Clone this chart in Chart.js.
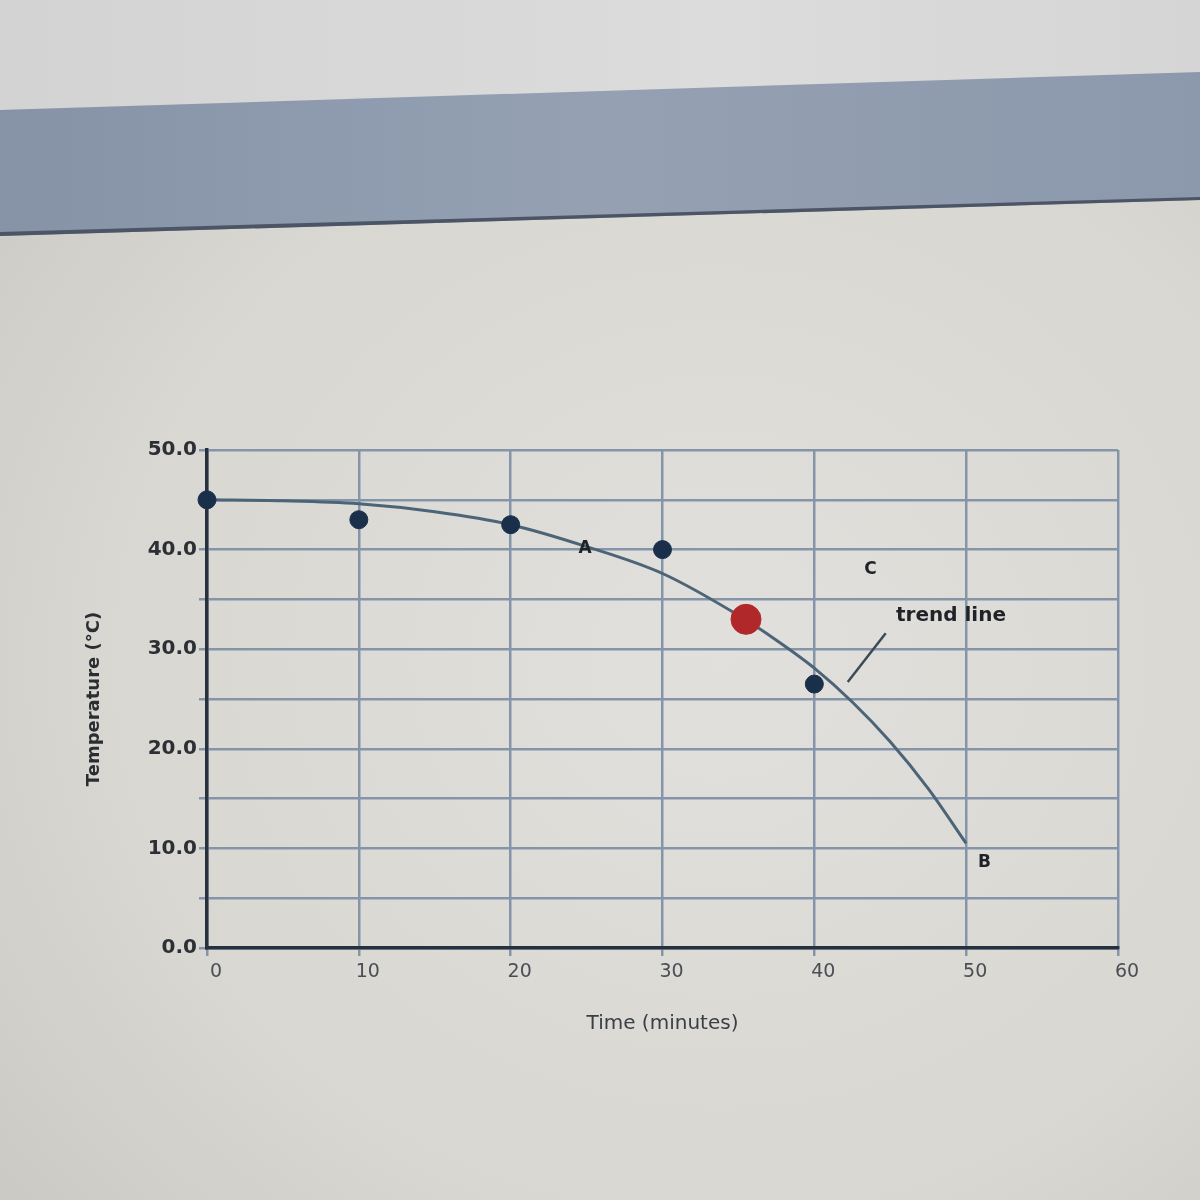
<!DOCTYPE html>
<html>
<head>
<meta charset="utf-8">
<script src="https://cdn.jsdelivr.net/npm/chart.js@4.4.1/dist/chart.umd.min.js"></script>
<style>
  html, body { margin: 0; padding: 0; }
  body {
    width: 1200px; height: 1200px; position: relative; overflow: hidden;
    background: radial-gradient(ellipse at 60% 55%, #e2e0dc 0%, #d9d7d2 60%, #c8c6c1 100%);
  }
  #top {
    position: absolute; left: 0; top: 0; width: 1200px; height: 260px;
    background: linear-gradient(90deg, #d3d3d3 0%, #dcdcdc 60%, #d5d5d5 100%);
    clip-path: polygon(0 0, 1200px 0, 1200px 74px, 0 110px);
  }
  #band {
    position: absolute; left: 0; top: 0; width: 1200px; height: 260px;
    background: linear-gradient(90deg, #8693a7 0%, #95a1b3 50%, #8c98ab 100%);
    clip-path: polygon(0 110px, 1200px 72px, 1200px 200px, 0 236px);
  }
  #bandEdge {
    position: absolute; left: 0; top: 0; width: 1200px; height: 260px;
    background: #4b5566;
    clip-path: polygon(0 232px, 1200px 197px, 1200px 200px, 0 236px);
  }
  #wrap { position: absolute; left: 0; top: 0; width: 1200px; height: 1200px; }
</style>
</head>
<body>
<div id="top"></div>
<div id="band"></div>
<div id="bandEdge"></div>
<div id="wrap"><canvas id="chart" width="1200" height="1200"></canvas></div>
<script>
// measured temperatures
const timeMinutes = [0, 10, 20, 30, 40];
const temperature = [45, 43, 42.5, 40, 26.5];

// the red point
const redTime = [35.5];
const redTemp = [33];

// trend line
const trendTime = [0, 5, 10, 15, 20, 25, 30, 35, 37.5, 40, 42.5, 45, 47.5, 50];
const trendTemp = [45, 44.9, 44.6, 43.8, 42.5, 40.3, 37.6, 33.4, 30.9, 28.1, 24.7, 20.7, 16.0, 10.5];

const xTicks = [0, 10, 20, 30, 40, 50, 60];
const yTicks = [0, 10, 20, 30, 40, 50];

// letters and the label on the plot
const noteText = ['A', 'C', 'trend line', 'B'];
const noteX = [24.9, 43.7, 49.0, 51.2];
const noteY = [40.1, 38, 33.4, 8.6];
const noteSize = [17, 17, 20, 17];
const pointerFrom = [44.7, 31.6];
const pointerTo = [42.2, 26.7];

const toPoints = (xs, ys) => xs.map((x, i) => ({ x: x, y: ys[i] }));
const font = '"DejaVu Sans", Verdana, sans-serif';

const notesPlugin = {
    id: 'notes',
    afterDatasetsDraw(chart) {
        const { ctx, scales } = chart;
        const x = scales.x, y = scales.y;
        ctx.save();
        ctx.strokeStyle = '#3c4a58';
        ctx.lineWidth = 2.5;
        ctx.beginPath();
        ctx.moveTo(x.getPixelForValue(pointerFrom[0]), y.getPixelForValue(pointerFrom[1]));
        ctx.lineTo(x.getPixelForValue(pointerTo[0]), y.getPixelForValue(pointerTo[1]));
        ctx.stroke();
        ctx.fillStyle = '#1f2328';
        ctx.textAlign = 'center';
        ctx.textBaseline = 'middle';
        noteText.forEach((t, i) => {
            ctx.font = 'bold ' + noteSize[i] + 'px ' + font;
            ctx.fillText(t, x.getPixelForValue(noteX[i]), y.getPixelForValue(noteY[i]));
        });
        ctx.restore();
    }
};

new Chart(document.getElementById('chart'), {
    type: 'scatter',
    data: {
        datasets: [
            {
                data: toPoints(timeMinutes, temperature),
                backgroundColor: '#1a2f4a',
                borderColor: '#1a2f4a',
                pointRadius: 9,
                clip: false
            },
            {
                data: toPoints(redTime, redTemp),
                backgroundColor: '#b1282b',
                borderColor: '#b1282b',
                pointRadius: 15
            },
            {
                type: 'line',
                data: toPoints(trendTime, trendTemp),
                borderColor: '#4c6477',
                borderWidth: 3,
                pointRadius: 0,
                cubicInterpolationMode: 'monotone',
                fill: false
            }
        ]
    },
    options: {
        responsive: false,
        animation: false,
        events: [],
        layout: { padding: { left: 82, right: 82, top: 450, bottom: 160 } },
        plugins: {
            legend: { display: false },
            tooltip: { enabled: false }
        },
        scales: {
            x: {
                type: 'linear',
                min: 0,
                max: 60,
                afterBuildTicks: (s) => { s.ticks = xTicks.map(v => ({ value: v })); },
                afterFit: (s) => { s.height = 92; },
                ticks: {
                    color: '#4a4f55',
                    padding: 5,
                    labelOffset: 9,
                    font: { family: font, size: 19 }
                },
                grid: { color: '#8595a9', lineWidth: 2.5, tickLength: 8 },
                border: { color: '#27313d', width: 3.5 },
                title: {
                    display: true,
                    text: 'Time (minutes)',
                    color: '#3a3f45',
                    padding: { top: 4, bottom: 4 },
                    font: { family: font, size: 20 }
                }
            },
            y: {
                min: 0,
                max: 50,
                ticks: {
                    stepSize: 5,
                    color: '#2c3035',
                    padding: 2,
                    callback: (v) => yTicks.includes(v) ? v.toFixed(1) : '',
                    font: { family: font, size: 20, weight: 'bold' }
                },
                afterFit: (s) => { s.width = 125; },
                grid: { color: '#8595a9', lineWidth: 2.5, tickLength: 8 },
                border: { color: '#27313d', width: 3.5 },
                title: {
                    display: true,
                    text: 'Temperature (°C)',
                    color: '#2a2e33',
                    padding: { top: 2, bottom: 2 },
                    font: { family: font, size: 18, weight: 'bold' }
                }
            }
        }
    },
    plugins: [notesPlugin]
});
</script>
</body>
</html>
